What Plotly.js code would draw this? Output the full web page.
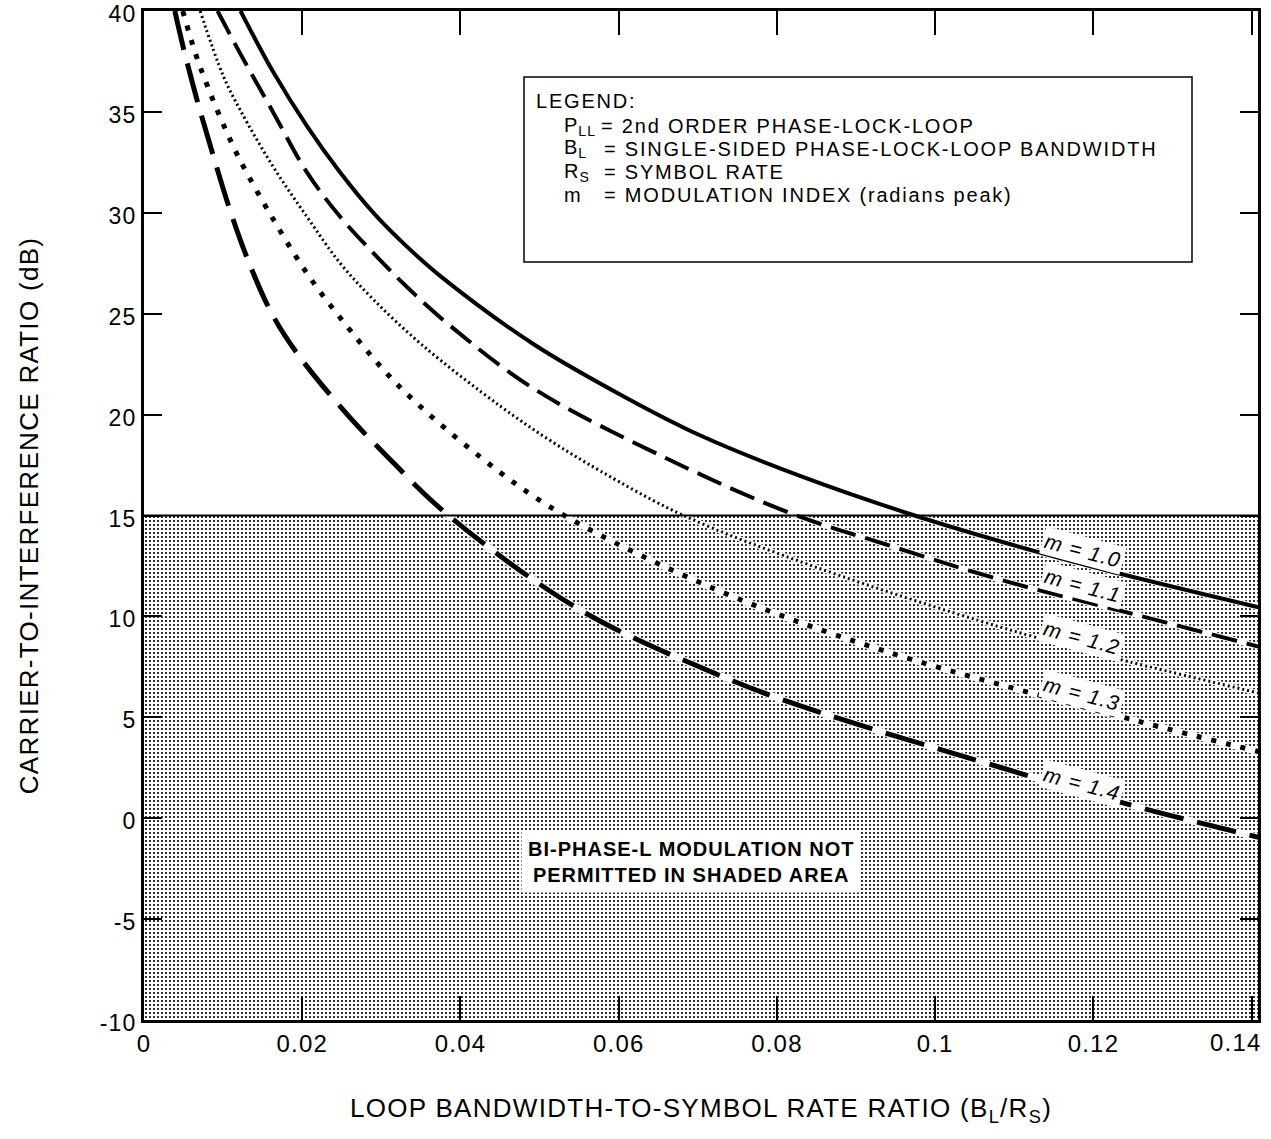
<!DOCTYPE html>
<html>
<head>
<meta charset="utf-8">
<script src="https://cdn.plot.ly/plotly-3.0.1.min.js"></script>
<style>
html,body{margin:0;padding:0;background:#fff}
#chart{width:1271px;height:1139px}
svg text{letter-spacing:0.05em}
</style>
</head>
<body>
<div id="chart"></div>
<script>
// ---- data ----
const m10_x = [0.0122, 0.0163, 0.0206, 0.0248, 0.029, 0.0333, 0.0375, 0.0492, 0.0611, 0.0704, 0.083, 0.097, 0.1084, 0.12, 0.1409];
const m10_y = [40, 37.0, 34.3, 32.0, 30.0, 28.3, 26.85, 23.5, 20.8, 18.95, 16.95, 15.05, 13.7, 12.45, 10.45];

const m11_x = [0.0093, 0.01215, 0.0163, 0.0206, 0.0248, 0.029, 0.0333, 0.0387, 0.0492, 0.0662, 0.0818, 0.0935, 0.1084, 0.1252, 0.1409];
const m11_y = [40, 37.9, 35.0, 32.0, 29.8, 28.0, 26.3, 24.4, 21.3, 17.8, 15.1, 13.6, 11.8, 10.1, 8.5];

const m12_x = [0.0071, 0.01, 0.01215, 0.0163, 0.0206, 0.0248, 0.029, 0.0353, 0.0451, 0.0514, 0.0577, 0.0682, 0.0852, 0.108, 0.121, 0.1409];
const m12_y = [40, 36.8, 35.1, 32.3, 29.8, 27.5, 25.7, 23.4, 20.4, 18.7, 17.2, 15.0, 12.4, 9.5, 8.1, 6.2];

const m13_x = [0.0049, 0.0065, 0.008, 0.01, 0.01215, 0.0163, 0.0206, 0.0248, 0.032, 0.0425, 0.0527, 0.0725, 0.0935, 0.1252, 0.1409];
const m13_y = [40, 37.9, 36.3, 34.4, 32.6, 29.7, 27.0, 24.8, 21.5, 17.9, 15.1, 11.3, 8.3, 4.85, 3.3];

const m14_x = [0.0039, 0.0049, 0.0067, 0.0087, 0.0109, 0.0134, 0.0163, 0.0197, 0.0257, 0.0303, 0.0385, 0.0552, 0.072, 0.0827, 0.1084, 0.1252, 0.1409];
const m14_y = [40, 38.3, 35.6, 32.9, 30.1, 27.4, 24.9, 22.85, 20.0, 18.1, 15.0, 10.3, 7.2, 5.6, 2.5, 0.6, -0.95];

const curveLabels = ["m = 1.0", "m = 1.1", "m = 1.2", "m = 1.3", "m = 1.4"];

const xTickVals = [0, 0.02, 0.04, 0.06, 0.08, 0.1, 0.12, 0.14];
const xTickText = ["0", "0.02", "0.04", "0.06", "0.08", "0.1", "0.12", ""];
const xLastTickText = "0.14";   // drawn pulled inside the page, as in the reference
const yTickVals = [-10, -5, 0, 5, 10, 15, 20, 25, 30, 35, 40];
const yTickText = ["-10", "-5", "0", "5", "10", "15", "20", "25", "30", "35", "40"];

const shadeLimit = 15;   // dB
const xMax = 0.1408, yMin = -10, yMax = 40;

const legendTitle = "LEGEND:";
const legendSymbols = ["P<sub>LL</sub>", "B<sub>L</sub>", "R<sub>S</sub>", "m"];
const legendTexts = ["= 2nd ORDER PHASE-LOCK-LOOP", "= SINGLE-SIDED PHASE-LOCK-LOOP BANDWIDTH", "= SYMBOL RATE", "= MODULATION INDEX (radians peak)"];

// ---- build ----
const FONT = "Liberation Sans, Arial, Helvetica, sans-serif";
const series = [
  {x: m10_x, y: m10_y, dash: "solid", w: 4},
  {x: m11_x, y: m11_y, dash: "26px,10px", w: 4},
  {x: m12_x, y: m12_y, dash: "2px,3px", w: 3},
  {x: m13_x, y: m13_y, dash: "5px,10px", w: 5},
  {x: m14_x, y: m14_y, dash: "40px,14px", w: 5}
];

const traces = [];
traces.push({
  x: [0, xMax, xMax, 0, 0], y: [yMin, yMin, shadeLimit, shadeLimit, yMin],
  type: "scatter", mode: "lines", fill: "toself",
  line: {width: 0, color: "rgba(0,0,0,0)"},
  fillcolor: "#bdbdbd",
  fillpattern: {shape: ".", size: 4, solidity: 0.24, fgcolor: "#000", bgcolor: "#ffffff", fillmode: "replace"},
  hoverinfo: "skip", showlegend: false
});
series.forEach(s => {
  traces.push({x: s.x, y: s.y, type: "scatter", mode: "lines",
    line: {color: "#ffffff", width: s.w + 2, shape: "spline", smoothing: 1.0},
    hoverinfo: "skip", showlegend: false});
});
series.forEach(s => {
  traces.push({x: s.x, y: s.y, type: "scatter", mode: "lines",
    line: {color: "#000000", width: s.w, dash: s.dash, shape: "spline", smoothing: 1.0},
    showlegend: false});
});

const labelPos = [
  {x: 0.1187, y: 13.29}, {x: 0.1187, y: 11.55}, {x: 0.1185, y: 8.97}, {x: 0.1185, y: 6.19}, {x: 0.1185, y: 1.72}
];
const annotations = [];
curveLabels.forEach((t, i) => {
  annotations.push({x: labelPos[i].x, y: labelPos[i].y, xref: "x", yref: "y", text: "<i>" + t + "</i>",
    showarrow: false, textangle: 15, bgcolor: "#ffffff", borderpad: 2,
    font: {family: FONT, size: 21, color: "#000"}});
});
annotations.push({x: 0.0691, y: -0.62, xref: "x", yref: "y", yanchor: "top",
  text: "<b>BI-PHASE-L MODULATION NOT<br>PERMITTED IN SHADED AREA</b>",
  showarrow: false, bgcolor: "#ffffff", borderpad: 6, align: "center",
  font: {family: FONT, size: 20, color: "#000"}});

// legend box text (paper coordinates via pixels)
const W = 1271, H = 1139, mL = 144, mR = 13, mT = 11, mB = 119;
const pw = W - mL - mR, ph = H - mT - mB;
const px = v => (v - mL) / pw;
const py = v => 1 - (v - mT) / ph;
const wide = t => '<span style="letter-spacing:0.09em">' + t + '</span>';
annotations.push({x: xMax, y: py(1042), xref: "x", yref: "paper", xanchor: "right", yanchor: "middle", xshift: 6,
  text: xLastTickText, showarrow: false, font: {family: FONT, size: 24, color: "#000"}});
annotations.push({x: px(535), y: py(101), xref: "paper", yref: "paper", xanchor: "left", yanchor: "middle",
  text: wide(legendTitle), showarrow: false, borderpad: 0, font: {family: FONT, size: 20, color: "#000"}});
const rowsY = [126, 149, 172, 195];
const eqX = [600, 603, 603, 603];
legendSymbols.forEach((s, i) => {
  annotations.push({x: px(563), y: py(rowsY[i]), xref: "paper", yref: "paper", xanchor: "left", yanchor: "middle",
    text: s, showarrow: false, borderpad: 0, font: {family: FONT, size: 20, color: "#000"}});
  annotations.push({x: px(eqX[i]), y: py(rowsY[i]), xref: "paper", yref: "paper", xanchor: "left", yanchor: "middle",
    text: wide(legendTexts[i]), showarrow: false, borderpad: 0, font: {family: FONT, size: 20, color: "#000"}});
});

const shapes = [
  {type: "line", xref: "x", yref: "y", x0: 0, x1: xMax, y0: shadeLimit, y1: shadeLimit, line: {color: "#000", width: 2}},
  {type: "rect", xref: "paper", yref: "paper", x0: px(524), x1: px(1192), y0: py(262), y1: py(77),
   line: {color: "#000", width: 1.5}, fillcolor: "#ffffff", layer: "above"}
];

const layout = {
  width: W, height: H,
  margin: {l: mL, r: mR, t: mT, b: mB, pad: 0},
  paper_bgcolor: "#fff", plot_bgcolor: "#fff",
  font: {family: FONT, size: 24, color: "#000"},
  showlegend: false,
  xaxis: {range: [0, xMax], tickvals: xTickVals, ticktext: xTickText,
    ticks: "inside", ticklen: 24, tickwidth: 2, tickcolor: "#000", ticklabeloverflow: "allow",
    showline: true, linewidth: 3, linecolor: "#000", mirror: "ticks",
    showgrid: false, zeroline: false, tickfont: {family: FONT, size: 24},
    title: {text: "LOOP BANDWIDTH-TO-SYMBOL RATE RATIO (B<sub>L</sub>/R<sub>S</sub>)", font: {family: FONT, size: 26}, standoff: 44}},
  yaxis: {range: [yMin, yMax], tickvals: yTickVals, ticktext: yTickText,
    ticks: "inside", ticklen: 18, tickwidth: 2, tickcolor: "#000", ticklabeloverflow: "allow",
    ticklabelshift: 3,
    showline: true, linewidth: 3, linecolor: "#000", mirror: "ticks",
    showgrid: false, zeroline: false, tickfont: {family: FONT, size: 23},
    title: {text: "CARRIER-TO-INTERFERENCE RATIO (dB)", font: {family: FONT, size: 26}, standoff: 54}},
  shapes: shapes,
  annotations: annotations
};

Plotly.newPlot("chart", traces, layout, {displayModeBar: false, staticPlot: true});
</script>
</body>
</html>
